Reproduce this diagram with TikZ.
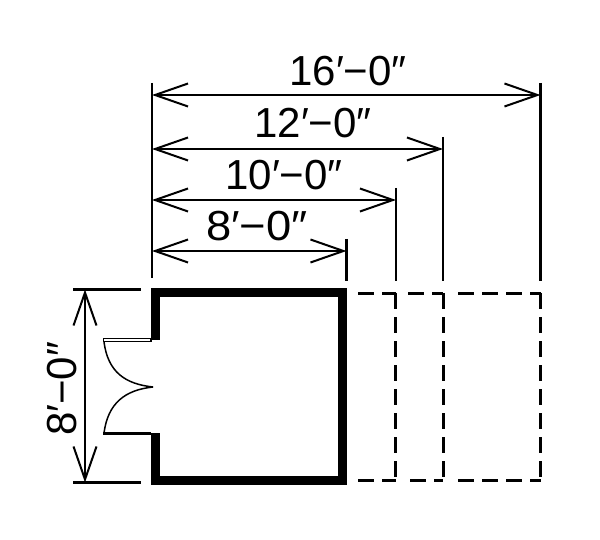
\documentclass[tikz,border=0pt]{standalone}
\usepackage{fontspec}
\setmainfont{Liberation Sans}
\usetikzlibrary{arrows.meta}
\tikzset{
  dimline/.style={line width=2.2pt, {Straight Barb[length=33pt,width=23pt,line width=2pt]}-{Straight Barb[length=33pt,width=23pt,line width=2pt]}},
  extline/.style={line width=2.4pt},
  wall/.style={line width=9pt, line join=miter},
  hidden/.style={line width=2.6pt, dash pattern=on 16pt off 8pt},
  dimtext/.style={font=\fontsize{42pt}{42pt}\selectfont, inner sep=0pt}
}
\begin{document}
\begin{tikzpicture}
\useasboundingbox (0pt,0pt) rectangle (600pt,-540pt);
% extension lines
\coordinate (leftTop) at (152pt,-83pt);
\coordinate (leftEnd) at (152pt,-278pt);
\coordinate (top16) at (540.5pt,-83pt);
\coordinate (end16) at (540.5pt,-281pt);
\coordinate (top12) at (443pt,-137pt);
\coordinate (end12) at (443pt,-281pt);
\coordinate (top10) at (396pt,-188pt);
\coordinate (end10) at (396pt,-281pt);
\coordinate (top8) at (346.5pt,-239pt);
\coordinate (end8) at (346.5pt,-281pt);
\draw[extline] (leftTop) -- (leftEnd);
\draw[extline] (top16) -- (end16);
\draw[extline] (top12) -- (end12);
\draw[extline] (top10) -- (end10);
\draw[extline] (top8) -- (end8);
% dimension lines
\coordinate (a16) at (152pt,-95pt);
\coordinate (b16) at (540.5pt,-95pt);
\coordinate (a12) at (152pt,-149pt);
\coordinate (b12) at (443pt,-149pt);
\coordinate (a10) at (152pt,-200pt);
\coordinate (b10) at (396pt,-200pt);
\coordinate (a8) at (152pt,-251pt);
\coordinate (b8) at (346.5pt,-251pt);
\draw[dimline] (a16) -- (b16);
\draw[dimline] (a12) -- (b12);
\draw[dimline] (a10) -- (b10);
\draw[dimline] (a8) -- (b8);
\node[dimtext] (label16) at (348pt,-71pt) {16′−0″};
\node[dimtext] (label12) at (313pt,-123pt) {12′−0″};
\node[dimtext] (label10) at (284pt,-175pt) {10′−0″};
\node[dimtext, xscale=1.08] (label8) at (257pt,-226pt) {8′−0″};
% height dimension
\coordinate (hTopL) at (73pt,-289.5pt);
\coordinate (hTopR) at (141pt,-289.5pt);
\coordinate (hBotL) at (73pt,-482.5pt);
\coordinate (hBotR) at (141pt,-482.5pt);
\coordinate (hTop) at (85pt,-289.5pt);
\coordinate (hBot) at (85pt,-482.5pt);
\draw[extline] (hTopL) -- (hTopR);
\draw[extline] (hBotL) -- (hBotR);
\draw[dimline] (hTop) -- (hBot);
\node[dimtext, rotate=90] (labelH) at (62pt,-389pt) {8′−0″};
% room
\draw[wall] (155.5pt,-340pt) -- (155.5pt,-292.5pt) -- (342.5pt,-292.5pt) -- (342.5pt,-480pt) -- (155.5pt,-480pt) -- (155.5pt,-433pt);
% door
\draw[line width=1.4pt, fill=white] (103.5pt,-338.5pt) rectangle (151pt,-341.5pt);
\draw[line width=3pt] (103pt,-433.5pt) -- (151pt,-433.5pt);
\draw[line width=1.5pt] (104pt,-342pt) .. controls (108pt,-372pt) and (125pt,-384pt) .. (153pt,-387pt);
\draw[line width=1.5pt] (104pt,-433pt) .. controls (108pt,-403pt) and (125pt,-390pt) .. (153pt,-387pt);
% future extensions
\draw[hidden] (358pt,-293.5pt) -- (396pt,-293.5pt);
\draw[hidden] (408pt,-293.5pt) -- (443pt,-293.5pt);
\draw[hidden] (458pt,-293.5pt) -- (541pt,-293.5pt);
\draw[hidden] (358pt,-480.5pt) -- (396pt,-480.5pt);
\draw[hidden] (410pt,-480.5pt) -- (443pt,-480.5pt);
\draw[hidden] (458pt,-480.5pt) -- (541pt,-480.5pt);
\draw[hidden] (395.5pt,-293pt) -- (395.5pt,-481pt);
\draw[hidden] (443.5pt,-293pt) -- (443.5pt,-481pt);
\draw[hidden] (540.5pt,-293pt) -- (540.5pt,-481pt);
\end{tikzpicture}
\end{document}
